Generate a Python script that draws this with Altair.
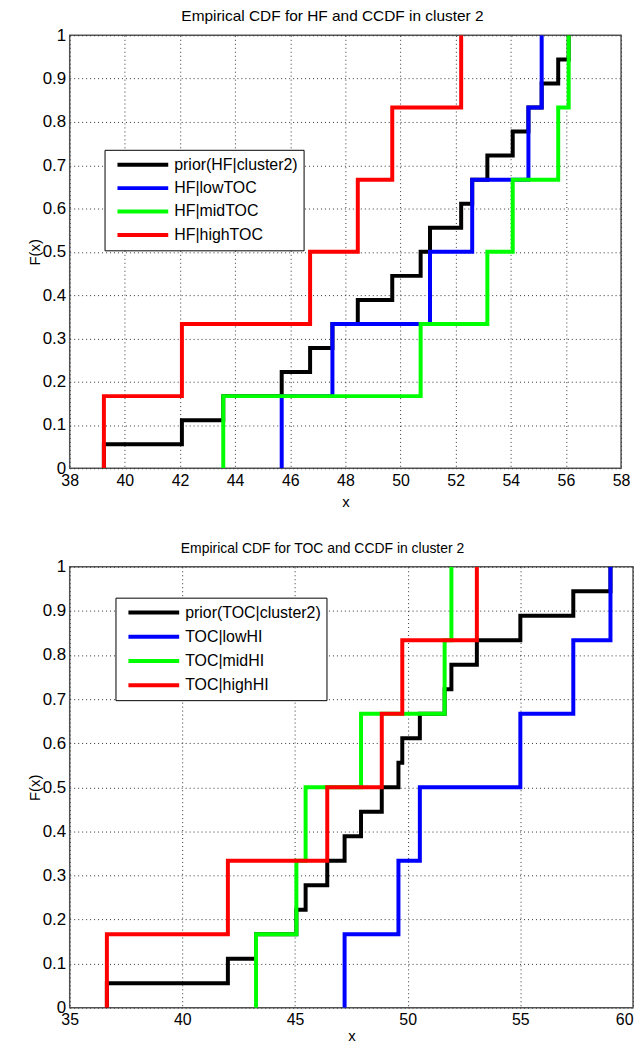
import altair as alt
import pandas as pd

# ---- data ----
hf_names = ["prior(HF|cluster2)", "HF|lowTOC", "HF|midTOC", "HF|highTOC"]
hf_prior = [39.24, 42.07, 43.57, 45.69, 46.72, 47.53, 48.45, 49.70, 50.73,
            51.07, 52.20, 52.60, 53.15, 54.07, 54.64, 55.12, 55.72, 56.10]
hf_low = [45.69, 47.53, 51.07, 52.60, 54.64, 55.12]
hf_mid = [43.57, 50.73, 53.15, 54.07, 55.72, 56.10]
hf_high = [39.24, 42.07, 46.72, 48.45, 49.70, 52.20]

toc_names = ["prior(TOC|cluster2)", "TOC|lowHI", "TOC|midHI", "TOC|highHI"]
toc_prior = [36.65, 42.02, 43.27, 45.06, 45.47, 46.43, 47.20, 47.93, 48.85,
             49.59, 49.76, 50.54, 51.64, 51.94, 53.07, 55.00, 57.35, 59.00]
toc_low = [47.20, 49.59, 50.54, 55.00, 57.35, 59.00]
toc_mid = [43.27, 45.06, 45.47, 47.93, 51.64, 51.94]
toc_high = [36.65, 42.02, 46.43, 48.85, 49.76, 53.07]

colors = ["#000000", "#0000ff", "#00ff00", "#ff0000"]
hf_ticks = [38, 40, 42, 44, 46, 48, 50, 52, 54, 56, 58]
toc_ticks = [35, 40, 45, 50, 55, 60]
y_ticks = [0, 0.1, 0.2, 0.3, 0.4, 0.5, 0.6, 0.7, 0.8, 0.9, 1]

FONT = "Liberation Sans"


def stairs(name, xs):
    n = len(xs)
    rows = [{"series": name, "x": xs[0], "F": 0.0, "k": 0}]
    for i, v in enumerate(xs):
        rows.append({"series": name, "x": v, "F": (i + 1) / n, "k": i + 1})
    return rows


def panel(names, series_list, title, title_dx, title_size, xdom, xticks,
          x_title_pad, last_tick, width, height, lx, ly, clip_h, row_pad):
    layers = []
    for name, xs in zip(names, series_list):
        df = pd.DataFrame(stairs(name, xs))
        layers.append(
            alt.Chart(df).mark_line(interpolate="step-after", strokeWidth=4,
                                     clip=True).encode(
                x=alt.X("x:Q",
                        scale=alt.Scale(domain=xdom, nice=False, zero=False),
                        axis=alt.Axis(
                            values=xticks, title="x", labelFlush=False,
                            titlePadding=x_title_pad,
                            labelAlign={"condition": {"test": f"datum.value == {last_tick}",
                                                      "value": "right"},
                                        "value": "center"})),
                y=alt.Y("F:Q", scale=alt.Scale(domain=[0, 1], nice=False),
                        axis=alt.Axis(values=y_ticks, format="~g", title="F(x)")),
                color=alt.Color(
                    "series:N",
                    scale=alt.Scale(domain=names, range=colors),
                    legend=alt.Legend(
                        orient="none", legendX=lx, legendY=ly, title=None,
                        symbolType="stroke", symbolSize=2601,
                        symbolStrokeWidth=4, labelFontSize=16, labelFont=FONT,
                        labelColor="#000000", fillColor="#ffffff",
                        strokeColor="#000000", padding=5, clipHeight=clip_h,
                        rowPadding=row_pad, symbolOffset=6, labelOffset=4,
                        labelLimit=400, cornerRadius=0)),
                order="k:Q",
            )
        )
    return alt.layer(*layers).properties(
        width=width, height=height,
        title=alt.TitleParams(title, fontSize=title_size, font=FONT,
                              fontWeight="normal", anchor="middle",
                              color="#000000", offset=2, dx=title_dx),
    )


top = panel(hf_names, [hf_prior, hf_low, hf_mid, hf_high],
            "Empirical CDF for HF and CCDF in cluster 2", -13, 15.5,
            [38, 58], hf_ticks, 6, 999, 554, 435, 35, 115, 20, 3.5)
bottom = panel(toc_names, [toc_prior, toc_low, toc_mid, toc_high],
               "Empirical CDF for TOC and CCDF in cluster 2", -29, 14,
               [35, 60], toc_ticks, 1, 60, 566, 443, 46, 31, 20, 4.3)

chart = (
    alt.vconcat(top, bottom, spacing=31)
    .resolve_scale(color="independent")
    .resolve_legend(color="independent")
    .properties(padding={"left": 18, "top": -3, "right": 0, "bottom": 0})
    .configure_view(stroke="#555555", strokeWidth=1.5)
    .configure_axis(grid=True, gridDash=[1, 3], gridColor="#333333",
                    gridOpacity=1, gridWidth=1, ticks=False, domain=False,
                    labelFont=FONT, labelColor="#000000",
                    titleFont=FONT, titleFontSize=15,
                    titleFontWeight="normal", titleColor="#000000",
                    titlePadding=0)
    .configure_axisX(labelFontSize=16, labelPadding=4)
    .configure_axisY(labelFontSize=17, labelPadding=4)
)

chart.save("out.html", embed_options={"renderer": "svg", "actions": False})
